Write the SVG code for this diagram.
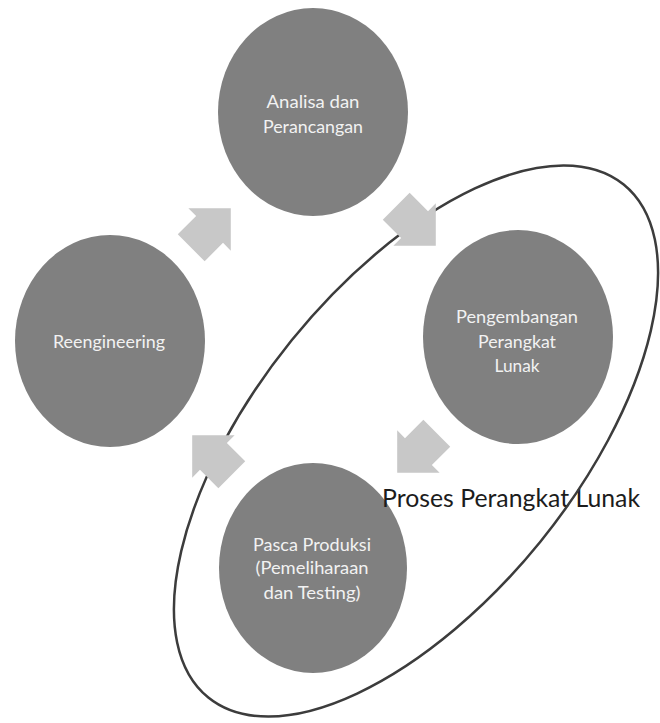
<svg xmlns="http://www.w3.org/2000/svg" width="660" height="723" viewBox="0 0 660 723">
  <style>
    .stage { fill: #808080; }
    .stage-label { font-family: Lato, "Liberation Sans", sans-serif; font-size: 18px; fill: #f2f2f2; text-anchor: middle; }
    .flow { fill: #c8c8c8; }
    .scope { fill: none; stroke: #3c3c3c; stroke-width: 2.5; }
    .scope-label { font-family: Lato, "Liberation Sans", sans-serif; font-size: 25px; fill: #1c1c1c; }
  </style>
  <defs>
    <!-- block arrow centred on the origin, pointing along +x -->
    <path id="block-arrow" d="M-28,-19 L-2,-19 L-2,-30 L28,0 L-2,30 L-2,19 L-28,19 Z"/>
  </defs>
  <rect width="660" height="723" fill="#ffffff"/>

  <g id="analisa">
    <ellipse class="stage" cx="313" cy="112" rx="95" ry="104"/>
    <text class="stage-label" x="313" y="108" textLength="93" lengthAdjust="spacingAndGlyphs">Analisa dan</text>
    <text class="stage-label" x="313" y="133" textLength="100" lengthAdjust="spacingAndGlyphs">Perancangan</text>
  </g>

  <g id="pengembangan">
    <ellipse class="stage" cx="518" cy="337" rx="95" ry="107"/>
    <text class="stage-label" x="517" y="323" textLength="122" lengthAdjust="spacingAndGlyphs">Pengembangan</text>
    <text class="stage-label" x="517" y="348" textLength="78" lengthAdjust="spacingAndGlyphs">Perangkat</text>
    <text class="stage-label" x="517" y="372" textLength="45" lengthAdjust="spacingAndGlyphs">Lunak</text>
  </g>

  <g id="pasca-produksi">
    <ellipse class="stage" cx="313" cy="568" rx="94" ry="105"/>
    <text class="stage-label" x="312" y="551" textLength="118" lengthAdjust="spacingAndGlyphs">Pasca Produksi</text>
    <text class="stage-label" x="312" y="574" textLength="113" lengthAdjust="spacingAndGlyphs">(Pemeliharaan</text>
    <text class="stage-label" x="312" y="599" textLength="97" lengthAdjust="spacingAndGlyphs">dan Testing)</text>
  </g>

  <g id="reengineering">
    <ellipse class="stage" cx="110" cy="341" rx="95" ry="106"/>
    <text class="stage-label" x="109" y="348" textLength="112" lengthAdjust="spacingAndGlyphs">Reengineering</text>
  </g>

  <g id="proses-perangkat-lunak">
    <text class="scope-label" x="382" y="507" textLength="258" lengthAdjust="spacingAndGlyphs">Proses Perangkat Lunak</text>
    <ellipse class="scope" cx="416" cy="441" rx="330" ry="160" transform="rotate(-51 416 441)"/>
  </g>

  <g id="connectors">
    <use href="#block-arrow" class="flow" transform="translate(211 228) rotate(-45)"/>
    <use href="#block-arrow" class="flow" transform="translate(416 226) rotate(45)"/>
    <use href="#block-arrow" class="flow" transform="translate(417 453) rotate(135)"/>
    <use href="#block-arrow" class="flow" transform="translate(212 455) rotate(-135)"/>
  </g>
</svg>
